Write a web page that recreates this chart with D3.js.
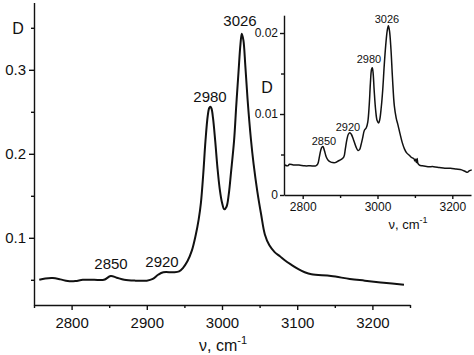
<!DOCTYPE html>
<html><head><meta charset="utf-8">
<script src="https://cdn.jsdelivr.net/npm/d3@7"></script>
<style>body{margin:0;background:#fff}svg{display:block}text{font-family:"Liberation Sans",Arial,sans-serif;fill:#111}</style>
</head><body><svg id="c" width="474" height="355"></svg>
<script>
// Main spectrum
const mainWavenumber = [2757,2765,2775,2785,2795,2805,2815,2830,2843,2852,2860,2870,2885,2900,2908,2915,2922,2935,2943,2948,2954,2960,2965,2969,2972,2975,2978,2981,2983,2984.5,2986,2988,2991,2994,2997,3000,3003,3006,3009,3012,3016,3019,3022,3024.5,3026.3,3028.5,3031,3034,3038.5,3042,3047,3052,3057,3063,3070,3077,3083,3092,3101,3110,3119,3145,3170,3190,3215,3242];
const mainAbsorbance = [0.050,0.0515,0.052,0.0505,0.0485,0.0485,0.050,0.050,0.050,0.0545,0.0525,0.050,0.049,0.049,0.051,0.056,0.059,0.059,0.060,0.064,0.072,0.085,0.103,0.122,0.142,0.175,0.215,0.245,0.2545,0.256,0.254,0.243,0.215,0.183,0.158,0.142,0.134,0.137,0.152,0.178,0.215,0.258,0.298,0.330,0.343,0.335,0.305,0.265,0.217,0.188,0.155,0.128,0.104,0.091,0.083,0.078,0.0735,0.068,0.063,0.059,0.0565,0.0545,0.051,0.049,0.0465,0.044];
// Inset spectrum
const insetWavenumber = [2752,2760,2765,2775,2790,2805,2820,2835,2840,2845,2850,2854,2858,2863,2868,2874,2880,2887,2895,2903,2910,2914,2918,2922,2926,2930,2936,2942,2948,2952,2956,2960,2965,2970,2974,2978,2981,2984,2986,2988,2991,2995,2999,3003,3006,3010,3014,3018,3022,3026,3029,3032,3036,3040,3045,3050,3055,3060,3066,3072,3078,3085,3092,3097,3100,3102,3104,3106,3108,3112,3120,3135,3150,3165,3180,3195,3210,3225,3235,3240,3246,3252];
const insetAbsorbance = [0.0037,0.0036,0.0038,0.0037,0.0037,0.0036,0.0036,0.0036,0.0038,0.0048,0.0058,0.0060,0.0055,0.0047,0.0043,0.0041,0.0040,0.0040,0.0042,0.0044,0.0047,0.0057,0.0068,0.0075,0.0077,0.0075,0.0068,0.0060,0.0055,0.0056,0.0062,0.0070,0.0080,0.0083,0.0090,0.0112,0.0138,0.0155,0.0157,0.0152,0.0130,0.0105,0.0092,0.0089,0.0093,0.0108,0.0130,0.0160,0.0185,0.0203,0.0209,0.0203,0.0180,0.0145,0.0110,0.0095,0.0086,0.0076,0.0065,0.0057,0.0052,0.0049,0.0046,0.0045,0.0042,0.0044,0.0040,0.0045,0.0039,0.0037,0.0036,0.0035,0.0035,0.0034,0.0033,0.0033,0.0032,0.0031,0.0029,0.0028,0.0030,0.0031];
// Ticks and labels
const mainXTicks = [2800,2900,3000,3100,3200];
const mainXMinor = [2750,2850,2950,3050,3150,3250];
const mainYTicks = [0.1,0.2,0.3];
const mainYMinor = [0.05,0.15,0.25,0.35];
const insetXTicks = [2800,3000,3200];
const insetXMinor = [2900,3100];
const insetYTicks = [0,0.01,0.02];
const insetYMinor = [0.005,0.015];
const mainPeaks = [[2850,"2850"],[2920,"2920"],[2980,"2980"],[3026,"3026"]];
const insetPeaks = [[2850,"2850"],[2920,"2920"],[2980,"2980"],[3026,"3026"]];

const svg = d3.select("#c");
const ink = "#111";

function drawAxes(g, x, y, o) {
  const gx = g.append("g").attr("transform", `translate(0,${o.bottom})`)
    .call(d3.axisBottom(x).tickValues(o.xt).tickSize(o.maj).tickSizeOuter(0).tickPadding(o.xpad).tickFormat(d3.format("d")));
  gx.append("g").call(d3.axisBottom(x).tickValues(o.xm).tickSize(o.min).tickFormat("")).select(".domain").remove();
  const gy = g.append("g").attr("transform", `translate(${o.left},0)`)
    .call(d3.axisLeft(y).tickValues(o.yt).tickSize(o.maj).tickSizeOuter(0).tickPadding(o.ypad).tickFormat(o.yfmt));
  gy.append("g").call(d3.axisLeft(y).tickValues(o.ym).tickSize(o.min).tickFormat("")).select(".domain").remove();
  [gx, gy].forEach(a => {
    a.selectAll("path,line").attr("stroke", ink).attr("stroke-width", 1.4);
    a.selectAll("text").style("font-size", o.fs + "px").attr("fill", ink);
  });
}

// MAIN
const x = d3.scaleLinear().domain([2750, 3250]).range([34, 410]);
const y = d3.scaleLinear().domain([0.02, 0.38]).range([305, 2.6]);
const gm = svg.append("g");
drawAxes(gm, x, y, {bottom:305, left:34, xt:mainXTicks, xm:mainXMinor, yt:mainYTicks, ym:mainYMinor,
  maj:5, min:3, xpad:7, ypad:3, fs:15, yfmt:d3.format(".1f")});
const mainData = mainWavenumber.map((v,i)=>[v, mainAbsorbance[i]]);
gm.append("path").datum(mainData)
  .attr("d", d3.line().x(d=>x(d[0])).y(d=>y(d[1])).curve(d3.curveCatmullRom.alpha(0.5)))
  .attr("fill","none").attr("stroke",ink).attr("stroke-width",2);
gm.append("text").attr("x", 18).attr("y", y(0.35)).attr("dy","0.36em").attr("text-anchor","middle")
  .style("font-size","16px").text("D");
const mainLabelPos = {2850:[111,264],2920:[162,262],2980:[210,97],3026:[240,21]};
gm.selectAll(".pk").data(mainPeaks).enter().append("text")
  .attr("x", d=>mainLabelPos[d[0]][0]).attr("y", d=>mainLabelPos[d[0]][1]).attr("dy","0.36em")
  .attr("text-anchor","middle").style("font-size","15px").text(d=>d[1]);
const xl = gm.append("text").attr("x", 223).attr("y", 351).attr("text-anchor","middle").style("font-size","16px");
xl.append("tspan").text("\u03bd, cm");
xl.append("tspan").attr("dy", -7).style("font-size","11px").text("-1");

// INSET
const xi = d3.scaleLinear().domain([2750, 3250]).range([284, 471]);
const yi = d3.scaleLinear().domain([0, 0.0222]).range([195, 15.2]);
const gi = svg.append("g");
drawAxes(gi, xi, yi, {bottom:195, left:284, xt:insetXTicks, xm:insetXMinor, yt:insetYTicks, ym:insetYMinor,
  maj:4, min:3, xpad:3, ypad:2, fs:12, yfmt:d=> d===0 ? "0" : d3.format(".2f")(d)});
const insetData = insetWavenumber.map((v,i)=>[v, insetAbsorbance[i]]);
gi.append("path").datum(insetData)
  .attr("d", d3.line().x(d=>xi(d[0])).y(d=>yi(d[1])).curve(d3.curveCatmullRom.alpha(0.5)))
  .attr("fill","none").attr("stroke",ink).attr("stroke-width",1.5);
gi.append("text").attr("x", 267).attr("y", 87.5).attr("dy","0.36em").attr("text-anchor","middle")
  .style("font-size","16px").text("D");
const insetLabelPos = {2850:[324,141],2920:[348,127],2980:[369,59],3026:[387,19]};
gi.selectAll(".pk").data(insetPeaks).enter().append("text")
  .attr("x", d=>insetLabelPos[d[0]][0]).attr("y", d=>insetLabelPos[d[0]][1]).attr("dy","0.36em")
  .attr("text-anchor","middle").style("font-size","11px").text(d=>d[1]);
const xli = gi.append("text").attr("x", 408).attr("y", 229).attr("text-anchor","middle").style("font-size","13px");
xli.append("tspan").text("\u03bd, cm");
xli.append("tspan").attr("dy", -6).style("font-size","9px").text("-1");
</script></body></html>
